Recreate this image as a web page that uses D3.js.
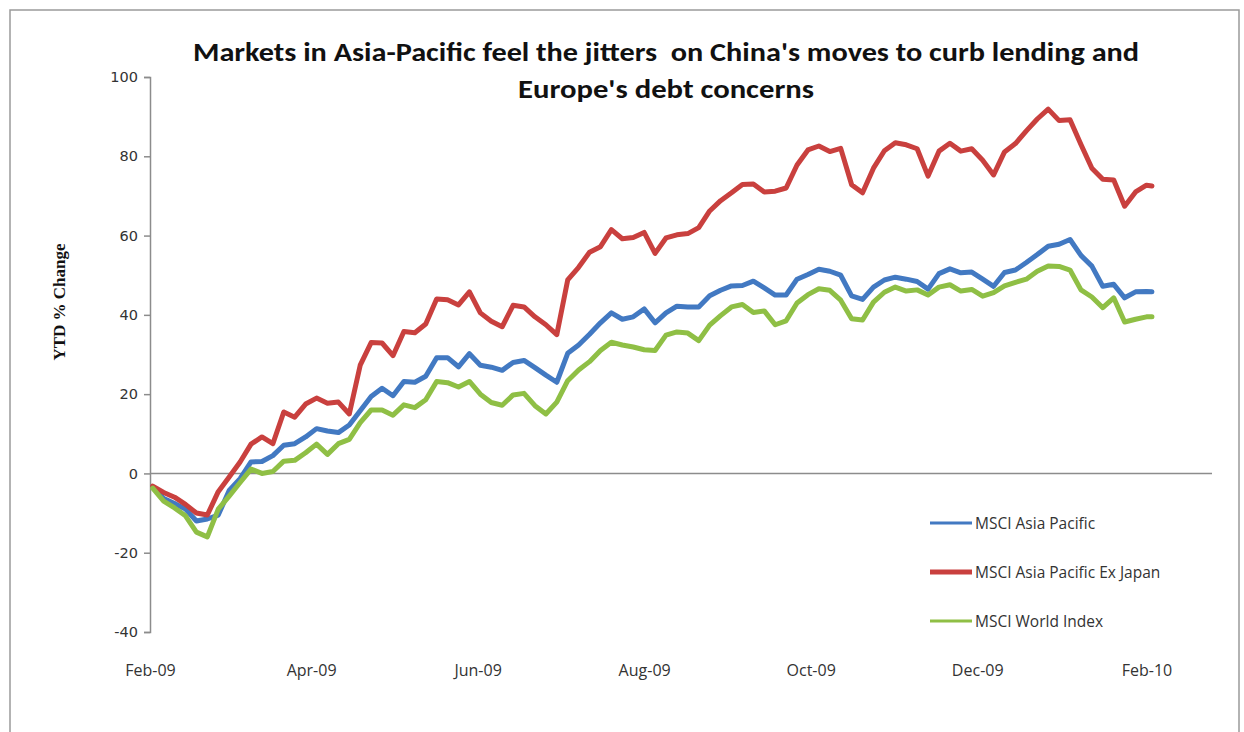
<!DOCTYPE html>
<html>
<head>
<meta charset="utf-8">
<script src="https://cdn.jsdelivr.net/npm/d3@7"></script>
<style>
  body { margin: 0; background: #fff; }
  svg { display: block; }
</style>
</head>
<body>
<svg width="1244" height="732"></svg>
<script>
const dates = [
  "2009-02-02", "2009-02-06", "2009-02-10", "2009-02-14", "2009-02-18", "2009-02-22", "2009-02-26",
  "2009-03-02", "2009-03-06", "2009-03-10", "2009-03-14", "2009-03-18", "2009-03-22", "2009-03-26", "2009-03-30",
  "2009-04-03", "2009-04-07", "2009-04-11", "2009-04-15", "2009-04-19", "2009-04-23", "2009-04-27",
  "2009-05-01", "2009-05-05", "2009-05-09", "2009-05-13", "2009-05-17", "2009-05-21", "2009-05-25", "2009-05-29",
  "2009-06-02", "2009-06-06", "2009-06-10", "2009-06-14", "2009-06-18", "2009-06-22", "2009-06-26", "2009-06-30",
  "2009-07-04", "2009-07-08", "2009-07-12", "2009-07-16", "2009-07-20", "2009-07-24", "2009-07-28",
  "2009-08-01", "2009-08-05", "2009-08-09", "2009-08-13", "2009-08-17", "2009-08-21", "2009-08-25", "2009-08-29",
  "2009-09-02", "2009-09-06", "2009-09-10", "2009-09-14", "2009-09-18", "2009-09-22", "2009-09-26", "2009-09-30",
  "2009-10-04", "2009-10-08", "2009-10-12", "2009-10-16", "2009-10-20", "2009-10-24", "2009-10-28",
  "2009-11-01", "2009-11-05", "2009-11-09", "2009-11-13", "2009-11-17", "2009-11-21", "2009-11-25", "2009-11-29",
  "2009-12-03", "2009-12-07", "2009-12-11", "2009-12-15", "2009-12-19", "2009-12-23", "2009-12-27", "2009-12-31",
  "2010-01-04", "2010-01-08", "2010-01-12", "2010-01-16", "2010-01-20", "2010-01-24", "2010-01-28",
  "2010-02-01", "2010-02-03"
]

const asiaPacific = [
  -3.4, -6.3, -7.6, -9, -12, -11.5, -10.5, -4.3, -1.3, 2.9,
  3, 4.5, 7.1, 7.5, 9.2, 11.3, 10.7, 10.3, 12.2, 15.8,
  19.4, 21.5, 19.6, 23.2, 23, 24.5, 29.2, 29.2, 26.9, 30.2,
  27.3, 26.8, 26, 28, 28.5, 26.7, 24.8, 23, 30.3, 32.4,
  35.1, 38, 40.5, 38.9, 39.5, 41.5, 38, 40.5, 42.2, 42,
  42, 44.8, 46.2, 47.3, 47.4, 48.5, 46.8, 45, 45, 49,
  50.2, 51.5, 51, 50, 44.8, 43.9, 47, 48.8, 49.5, 49,
  48.4, 46.5, 50.4, 51.6, 50.6, 50.8, 49, 47.2, 50.7, 51.3,
  53.2, 55.2, 57.3, 57.8, 59, 55, 52.3, 47.2, 47.7, 44.3,
  45.8, 45.9, 45.8
]

const asiaPacificExJapan = [
  -3.2, -4.8, -6, -7.8, -10, -10.5, -4.6, -0.9, 2.9, 7.4,
  9.2, 7.5, 15.5, 14.2, 17.5, 19, 17.7, 18, 15, 27.3,
  33, 32.9, 29.7, 35.8, 35.5, 37.7, 44, 43.8, 42.5, 45.8,
  40.5, 38.4, 37, 42.4, 42, 39.5, 37.5, 35, 48.8, 52,
  55.8, 57.2, 61.5, 59.2, 59.5, 60.8, 55.5, 59.4, 60.2, 60.5,
  62, 66.2, 68.8, 70.8, 72.9, 73, 71, 71.2, 72, 77.8,
  81.6, 82.6, 81.2, 82, 72.8, 70.8, 77, 81.4, 83.4, 82.9,
  81.9, 75, 81.3, 83.3, 81.3, 81.9, 79, 75.3, 81.1, 83.2,
  86.4, 89.4, 91.9, 89, 89.2, 83, 77, 74.2, 74, 67.4,
  71, 72.7, 72.5
]

const worldIndex = [
  -3.7, -7, -8.7, -10.7, -14.8, -16, -9, -5.7, -2.3, 1.1,
  0, 0.5, 3.1, 3.3, 5.2, 7.4, 4.8, 7.5, 8.6, 12.8,
  16, 16, 14.7, 17.3, 16.6, 18.6, 23.2, 22.9, 21.8, 23.2,
  20, 17.9, 17.2, 19.8, 20.2, 17.1, 15, 18, 23.4, 26.1,
  28.2, 31, 33.1, 32.4, 31.9, 31.2, 31, 34.9, 35.7, 35.4,
  33.5, 37.4, 39.8, 42, 42.6, 40.6, 41, 37.5, 38.5, 43,
  45.1, 46.6, 46.2, 43.7, 39, 38.7, 43.2, 45.7, 47, 46,
  46.3, 45, 47, 47.6, 46, 46.4, 44.7, 45.6, 47.3, 48.2,
  49, 51, 52.3, 52.2, 51.3, 46.3, 44.5, 41.8, 44.3, 38.2,
  38.9, 39.5, 39.5
]

const seriesNames = ["MSCI Asia Pacific", "MSCI Asia Pacific Ex Japan", "MSCI World Index"]
const seriesColors = ["#4279c2", "#c9403e", "#8fbf45"]
const xTickDates = ["2009-02-01", "2009-04-01", "2009-06-01", "2009-08-01", "2009-10-01", "2009-12-01", "2010-02-01"]
const yTicks = [-40, -20, 0, 20, 40, 60, 80, 100]

const svg = d3.select("svg")
const margin = { top: 77, right: 32, bottom: 100, left: 150 }
const width = +svg.attr("width")
const height = +svg.attr("height")
const parse = d3.timeParse("%Y-%m-%d")
const fmt = d3.timeFormat("%b-%y")

// chart frame
svg.append("rect")
  .attr("x", 10).attr("y", 10)
  .attr("width", 1229).attr("height", 740)
  .attr("fill", "none")
  .attr("stroke", "#9a9a9a")
  .attr("stroke-width", 1.5)

const x = d3.scaleTime()
  .domain([parse("2009-02-01"), parse("2010-02-25")])
  .range([margin.left, width - margin.right])

const y = d3.scaleLinear()
  .domain([-40, 100])
  .range([height - margin.bottom, margin.top])

// title
const title = svg.append("g")
  .attr("font-family", "Carlito, 'Open Sans', sans-serif")
  .attr("font-weight", "bold")
  .attr("font-size", 27)
  .attr("fill", "#111")
  .attr("text-anchor", "middle")
title.append("text")
  .attr("x", 666).attr("y", 61)
  .attr("textLength", 946).attr("lengthAdjust", "spacingAndGlyphs")
  .style("white-space", "pre")
  .text("Markets in Asia-Pacific feel the jitters  on China's moves to curb lending and")
title.append("text")
  .attr("x", 666).attr("y", 98)
  .attr("textLength", 296).attr("lengthAdjust", "spacingAndGlyphs")
  .text("Europe's debt concerns")

// y axis
const yAxis = d3.axisLeft(y)
  .tickValues(yTicks)
  .tickFormat((d) => String(d))
  .tickSize(6)
  .tickPadding(6)
const yAxisGroup = svg.append("g")
  .attr("transform", `translate(${margin.left}, 0)`)
  .call(yAxis)
yAxisGroup.select(".domain").attr("stroke", "#8c8c8c").attr("stroke-width", 1.5)
yAxisGroup.selectAll(".tick line").attr("stroke", "#8c8c8c").attr("stroke-width", 1.5)
yAxisGroup.selectAll(".tick text")
  .attr("font-family", "'DejaVu Sans', Verdana, sans-serif")
  .attr("font-size", 14.5)
  .attr("fill", "#333")

svg.append("text")
  .attr("transform", `translate(65, 302) rotate(-90)`)
  .attr("text-anchor", "middle")
  .attr("font-family", "'Liberation Serif', 'Times New Roman', serif")
  .attr("font-weight", "bold")
  .attr("font-size", 17)
  .attr("fill", "#111")
  .text("YTD % Change")

// zero line (category axis)
svg.append("line")
  .attr("x1", x.range()[0]).attr("x2", x.range()[1])
  .attr("y1", y(0)).attr("y2", y(0))
  .attr("stroke", "#8c8c8c")
  .attr("stroke-width", 1.5)

// x labels at the bottom
const xAxis = d3.axisBottom(x)
  .tickValues(xTickDates.map(parse))
  .tickFormat(fmt)
  .tickSize(0)
  .tickPadding(0)
const xAxisGroup = svg.append("g")
  .attr("transform", `translate(0, ${y(-40) + 33})`)
  .call(xAxis)
xAxisGroup.select(".domain").remove()
xAxisGroup.selectAll(".tick text")
  .attr("font-family", "'Open Sans', sans-serif")
  .attr("font-size", 16)
  .attr("fill", "#333")

// lines
const allSeries = [asiaPacific, asiaPacificExJapan, worldIndex]
const line = d3.line()
  .x((d, i) => x(parse(dates[i])))
  .y((d) => y(d))

svg.append("g")
  .selectAll("path")
  .data(allSeries)
  .enter()
  .append("path")
  .attr("d", (d) => line(d))
  .attr("fill", "none")
  .attr("stroke", (d, i) => seriesColors[i])
  .attr("stroke-width", 5)
  .attr("stroke-linejoin", "round")
  .attr("stroke-linecap", "round")

// legend
const legend = svg.append("g")
  .selectAll("g")
  .data(seriesNames)
  .enter()
  .append("g")
  .attr("transform", (d, i) => `translate(930, ${523 + i * 49})`)
legend.append("line")
  .attr("x1", 0).attr("x2", 42)
  .attr("stroke", (d, i) => seriesColors[i])
  .attr("stroke-width", (d, i) => (i === 1 ? 5 : 3))
legend.append("text")
  .attr("x", 45).attr("y", 6)
  .attr("font-family", "'Open Sans', sans-serif")
  .attr("font-size", 15.5)
  .attr("fill", "#333")
  .text((d) => d)
</script>
</body>
</html>
